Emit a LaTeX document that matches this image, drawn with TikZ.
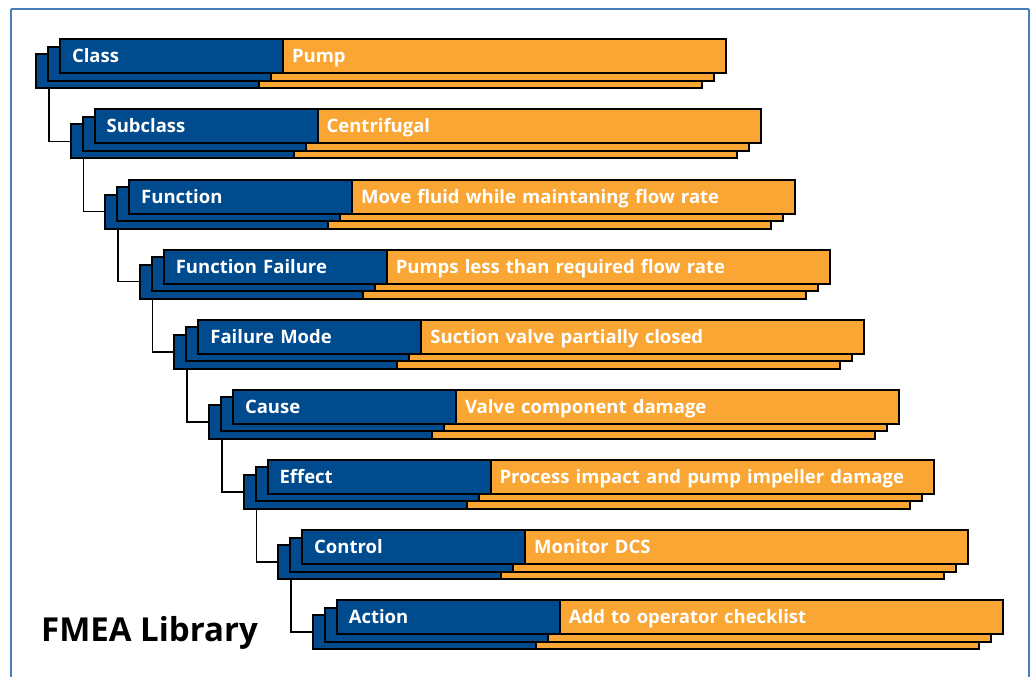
\documentclass[tikz,border=0pt]{standalone}
\usepackage{fontspec}
\setmainfont{Open Sans}
\definecolor{fblue}{RGB}{0,75,141}
\definecolor{forange}{RGB}{249,166,52}
\definecolor{frame}{RGB}{74,126,187}
\begin{document}
\begin{tikzpicture}[x=1pt,y=-1pt,
  layer/.style={draw=black,line width=2pt,inner sep=0pt,outer sep=0pt,minimum height=34pt,anchor=north west},
  bluebox/.style={layer,fill=fblue,minimum width=223pt},
  orangebox/.style={layer,fill=forange,minimum width=443pt},
  lbl/.style={text=white,font=\fontsize{18.5}{20}\selectfont\bfseries,text height=13pt,text depth=0pt,align=left},
  conn/.style={draw=black,line width=1.6pt},
]
\useasboundingbox (0,0) rectangle (1031,677);
\draw[frame,line width=1.5pt] (11,9) -- (1029,9);
\draw[frame,line width=1.5pt] (11,9) -- (11,690);
\draw[frame,line width=1.5pt] (1029,9) -- (1029,690);
\foreach \a/\b [count=\i from 0] in {Class/Pump,Subclass/Centrifugal,Function/Move fluid while maintaning flow rate,Function Failure/Pumps less than required flow rate,Failure Mode/Suction valve partially closed,Cause/Valve component damage,Effect/Process impact and pump impeller damage,Control/Monitor DCS,Action/Add to operator checklist}{
  \pgfmathsetmacro\dx{34.6*\i}
  \pgfmathsetmacro\dy{70.1*\i}
  % back layer
  \node[bluebox] (bb\i) at ({36+\dx},{54.3+\dy}) {};
  \node[orangebox] (bo\i) at (bb\i.north east) {};
  % middle layer
  \node[bluebox] (mb\i) at ({48+\dx},{46.8+\dy}) {};
  \node[orangebox] (mo\i) at (mb\i.north east) {};
  % front layer
  \node[bluebox,lbl,inner xsep=12pt,text width=199pt] (fb\i) at ({60+\dx},{39.3+\dy}) {\a};
  \node[orangebox,lbl,inner xsep=9pt,text width=425pt] (fo\i) at (fb\i.north east) {\b};
}
\foreach \i [evaluate=\i as \j using int(\i+1)] in {0,...,7}{
  \draw[conn] ([xshift=12.7pt]bb\i.south west) |- (bb\j.west);
}
\node[anchor=base west,inner sep=0pt,font=\fontsize{33}{36}\selectfont\bfseries] (title) at (41,641) {FMEA Library};
\end{tikzpicture}
\end{document}
